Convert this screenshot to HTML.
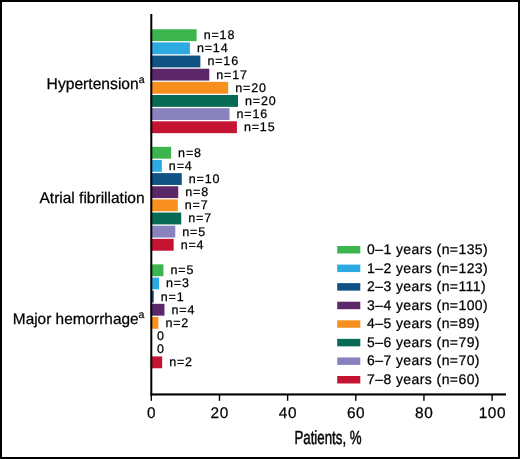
<!DOCTYPE html>
<html><head><meta charset="utf-8"><style>
html,body{margin:0;padding:0;background:#fff;}
body{width:520px;height:459px;overflow:hidden;position:relative;}
.frame{position:absolute;left:0;top:0;width:520px;height:459px;box-sizing:border-box;border:2px solid #000;}
svg{position:absolute;left:0;top:0;will-change:transform;}
text{font-family:"Liberation Sans",sans-serif;fill:#000;stroke:#000;stroke-width:0.25px;text-rendering:geometricPrecision;}
.nl{font-size:12.5px;letter-spacing:0.85px;}
.tk{font-size:15.4px;letter-spacing:0.6px;}
.cl{font-size:15.4px;}
.sup{font-size:10.5px;}
.at{font-size:19px;stroke:#111;stroke-width:0.55px;}
.lg{font-size:14px;letter-spacing:0.42px;}
</style></head><body>
<div class="frame"></div>
<svg width="520" height="459" viewBox="0 0 520 459">
<rect x="150.65" y="29.26" width="46.00" height="11.85" fill="#3CB54E"/>
<text class="nl" x="203.65" y="39.11">n=<tspan>18</tspan></text>
<rect x="150.65" y="42.41" width="39.27" height="11.85" fill="#2EAAE3"/>
<text class="nl" x="196.92" y="52.26">n=<tspan>14</tspan></text>
<rect x="150.65" y="55.56" width="49.73" height="11.85" fill="#115285"/>
<text class="nl" x="207.38" y="65.41">n=<tspan>16</tspan></text>
<rect x="150.65" y="68.71" width="58.65" height="11.85" fill="#5B2769"/>
<text class="nl" x="216.30" y="78.56">n=<tspan>17</tspan></text>
<rect x="150.65" y="81.86" width="77.53" height="11.85" fill="#F7901E"/>
<text class="nl" x="235.18" y="91.71">n=<tspan>20</tspan></text>
<rect x="150.65" y="95.01" width="87.34" height="11.85" fill="#076A54"/>
<text class="nl" x="244.99" y="104.86">n=<tspan>20</tspan></text>
<rect x="150.65" y="108.16" width="78.86" height="11.85" fill="#8883BD"/>
<text class="nl" x="236.51" y="118.01">n=<tspan>16</tspan></text>
<rect x="150.65" y="121.31" width="86.25" height="11.85" fill="#C41431"/>
<text class="nl" x="243.90" y="131.16">n=<tspan>15</tspan></text>
<rect x="150.65" y="146.81" width="20.44" height="11.85" fill="#3CB54E"/>
<text class="nl" x="178.09" y="156.66">n=<tspan>8</tspan></text>
<rect x="150.65" y="159.96" width="11.22" height="11.85" fill="#2EAAE3"/>
<text class="nl" x="168.87" y="169.81">n=<tspan>4</tspan></text>
<rect x="150.65" y="173.11" width="31.08" height="11.85" fill="#115285"/>
<text class="nl" x="188.73" y="182.96">n=<tspan>10</tspan></text>
<rect x="150.65" y="186.26" width="27.60" height="11.85" fill="#5B2769"/>
<text class="nl" x="185.25" y="196.11">n=<tspan>8</tspan></text>
<rect x="150.65" y="199.41" width="27.13" height="11.85" fill="#F7901E"/>
<text class="nl" x="184.78" y="209.26">n=<tspan>7</tspan></text>
<rect x="150.65" y="212.56" width="30.57" height="11.85" fill="#076A54"/>
<text class="nl" x="188.22" y="222.41">n=<tspan>7</tspan></text>
<rect x="150.65" y="225.71" width="24.64" height="11.85" fill="#8883BD"/>
<text class="nl" x="182.29" y="235.56">n=<tspan>5</tspan></text>
<rect x="150.65" y="238.86" width="23.00" height="11.85" fill="#C41431"/>
<text class="nl" x="180.65" y="248.71">n=<tspan>4</tspan></text>
<rect x="150.65" y="264.36" width="12.78" height="11.85" fill="#3CB54E"/>
<text class="nl" x="170.43" y="274.21">n=<tspan>5</tspan></text>
<rect x="150.65" y="277.51" width="8.41" height="11.85" fill="#2EAAE3"/>
<text class="nl" x="166.06" y="287.36">n=<tspan>3</tspan></text>
<rect x="150.65" y="290.66" width="3.11" height="11.85" fill="#115285"/>
<text class="nl" x="160.76" y="300.51">n=<tspan>1</tspan></text>
<rect x="150.65" y="303.81" width="13.80" height="11.85" fill="#5B2769"/>
<text class="nl" x="171.45" y="313.66">n=<tspan>4</tspan></text>
<rect x="150.65" y="316.96" width="7.75" height="11.85" fill="#F7901E"/>
<text class="nl" x="165.40" y="326.81">n=<tspan>2</tspan></text>
<text class="nl" x="157.00" y="339.96">0</text>
<text class="nl" x="157.00" y="353.11">0</text>
<rect x="150.65" y="356.41" width="11.50" height="11.85" fill="#C41431"/>
<text class="nl" x="169.15" y="366.26">n=<tspan>2</tspan></text>
<rect x="150.3" y="14" width="2" height="381.5" fill="#000"/>
<rect x="150.4" y="393.4" width="355.6" height="2.1" fill="#000"/>
<rect x="150.60" y="395" width="1.4" height="5.8" fill="#000"/>
<text class="tk" transform="translate(151.60,417.8) scale(1,1.0)" text-anchor="middle">0</text>
<rect x="218.76" y="395" width="1.4" height="5.8" fill="#000"/>
<text class="tk" transform="translate(219.76,417.8) scale(1,1.0)" text-anchor="middle">20</text>
<rect x="286.92" y="395" width="1.4" height="5.8" fill="#000"/>
<text class="tk" transform="translate(287.92,417.8) scale(1,1.0)" text-anchor="middle">40</text>
<rect x="355.08" y="395" width="1.4" height="5.8" fill="#000"/>
<text class="tk" transform="translate(356.08,417.8) scale(1,1.0)" text-anchor="middle">60</text>
<rect x="423.24" y="395" width="1.4" height="5.8" fill="#000"/>
<text class="tk" transform="translate(424.24,417.8) scale(1,1.0)" text-anchor="middle">80</text>
<rect x="491.40" y="395" width="1.4" height="5.8" fill="#000"/>
<text class="tk" transform="translate(492.40,417.8) scale(1,1.0)" text-anchor="middle">100</text>
<text class="cl" style="font-size:15.65px" transform="translate(144.6,88.5)" text-anchor="end">Hypertension<tspan class="sup" dy="-5.6">a</tspan></text>
<text class="cl" style="font-size:15.5px" transform="translate(144.6,203.3)" text-anchor="end">Atrial fibrillation</text>
<text class="cl" transform="translate(144.4,323.7)" text-anchor="end">Major hemorrhage<tspan class="sup" dy="-5.6">a</tspan></text>
<text class="at" transform="translate(294.4,444.3) scale(0.70,1)">Patients, %</text>
<rect x="337.2" y="246.00" width="23.1" height="7.5" fill="#3CB54E"/>
<text class="lg" x="367" y="254.00">0–1 years (n=135)</text>
<rect x="337.2" y="264.57" width="23.1" height="7.5" fill="#2EAAE3"/>
<text class="lg" x="367" y="272.57">1–2 years (n=123)</text>
<rect x="337.2" y="283.14" width="23.1" height="7.5" fill="#115285"/>
<text class="lg" x="367" y="291.14">2–3 years (n=111)</text>
<rect x="337.2" y="301.71" width="23.1" height="7.5" fill="#5B2769"/>
<text class="lg" x="367" y="309.71">3–4 years (n=100)</text>
<rect x="337.2" y="320.28" width="23.1" height="7.5" fill="#F7901E"/>
<text class="lg" x="367" y="328.28">4–5 years (n=89)</text>
<rect x="337.2" y="338.85" width="23.1" height="7.5" fill="#076A54"/>
<text class="lg" x="367" y="346.85">5–6 years (n=79)</text>
<rect x="337.2" y="357.42" width="23.1" height="7.5" fill="#8883BD"/>
<text class="lg" x="367" y="365.42">6–7 years (n=70)</text>
<rect x="337.2" y="375.99" width="23.1" height="7.5" fill="#C41431"/>
<text class="lg" x="367" y="383.99">7–8 years (n=60)</text>
</svg>
</body></html>
